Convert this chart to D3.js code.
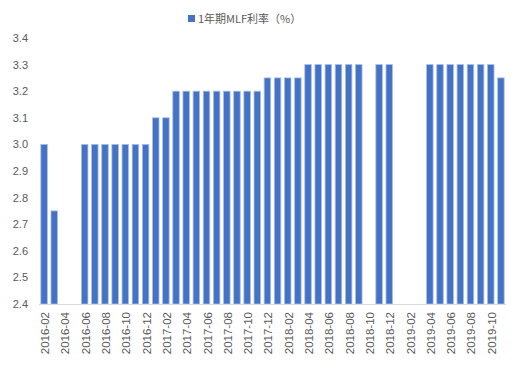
<!DOCTYPE html>
<html>
<head>
<meta charset="utf-8">
<title>MLF</title>
<script src="https://cdn.jsdelivr.net/npm/d3@7"></script>
<style>
    html, body { margin: 0; padding: 0; background: #fff; }
    svg text { font-family: "Liberation Sans", Arial, sans-serif; fill: #595959; }
    svg text.legend { font-family: "Noto Sans CJK SC", sans-serif; }
</style>
</head>
<body>
<svg id="chart"></svg>
<script>
// months 2016-02 .. 2019-11, null = no operation that month
var months = [
    '2016-02','2016-03','2016-04','2016-05','2016-06','2016-07','2016-08','2016-09','2016-10','2016-11','2016-12',
    '2017-01','2017-02','2017-03','2017-04','2017-05','2017-06','2017-07','2017-08','2017-09','2017-10','2017-11','2017-12',
    '2018-01','2018-02','2018-03','2018-04','2018-05','2018-06','2018-07','2018-08','2018-09','2018-10','2018-11','2018-12',
    '2019-01','2019-02','2019-03','2019-04','2019-05','2019-06','2019-07','2019-08','2019-09','2019-10','2019-11'
];
var rates = [
    3.0, 2.75, null, null, 3.0, 3.0, 3.0, 3.0, 3.0, 3.0, 3.0,
    3.1, 3.1, 3.2, 3.2, 3.2, 3.2, 3.2, 3.2, 3.2, 3.2, 3.2, 3.25,
    3.25, 3.25, 3.25, 3.3, 3.3, 3.3, 3.3, 3.3, 3.3, null, 3.3, 3.3,
    null, null, null, 3.3, 3.3, 3.3, 3.3, 3.3, 3.3, 3.3, 3.25
];
var yTicks = [2.4, 2.5, 2.6, 2.7, 2.8, 2.9, 3.0, 3.1, 3.2, 3.3, 3.4];
var seriesName = '1年期MLF利率（%）';

(function () {
    var w = 530, h = 368;
    var svg = d3.select('#chart').attr('width', w).attr('height', h);

    var x = d3.scaleBand().domain(months).range([39, 506]).paddingInner(0.36).paddingOuter(0.18);
    var y = d3.scaleLinear().domain([2.4, 3.4]).range([304, 38]);

    // bars
    svg.append('g').selectAll('rect')
        .data(months.map(function (m, i) { return { m: m, v: rates[i] }; })
            .filter(function (d) { return d.v !== null; }))
        .enter().append('rect')
        .attr('x', function (d) { return x(d.m); })
        .attr('width', x.bandwidth())
        .attr('y', function (d) { return y(d.v); })
        .attr('height', function (d) { return y(2.4) - y(d.v); })
        .style('fill', '#4472c4')
        .style('stroke', '#a8bde6')
        .style('stroke-width', 0.8);

    // y axis labels
    svg.append('g').selectAll('text')
        .data(yTicks)
        .enter().append('text')
        .attr('x', 28)
        .attr('y', function (d) { return y(d) + 4; })
        .attr('text-anchor', 'end')
        .style('font-size', '11px')
        .text(function (d) { return d.toFixed(1); });

    // x axis
    var xAxis = d3.axisBottom(x)
        .tickValues(months.filter(function (m, i) { return i % 2 === 0; }))
        .tickSize(0).tickPadding(0);
    var gx = svg.append('g').attr('transform', 'translate(0,304)').call(xAxis);
    gx.select('.domain').attr('stroke', '#d9d9d9').attr('d', 'M39,0.5H506');
    gx.selectAll('text')
        .attr('transform', 'rotate(-90)')
        .attr('x', -8)
        .attr('y', 1)
        .attr('dy', '0.35em')
        .attr('text-anchor', 'end')
        .style('font-family', '"Liberation Sans", Arial, sans-serif')
        .style('font-size', '11.5px')
        .style('fill', '#595959');

    // legend
    var lg = svg.append('g').attr('transform', 'translate(188,15)');
    lg.append('rect').attr('width', 7).attr('height', 7).style('fill', '#4472c4');
    lg.append('text').attr('class', 'legend').attr('x', 10).attr('y', 8).style('font-size', '11px').text(seriesName);
})();
</script>
</body>
</html>
